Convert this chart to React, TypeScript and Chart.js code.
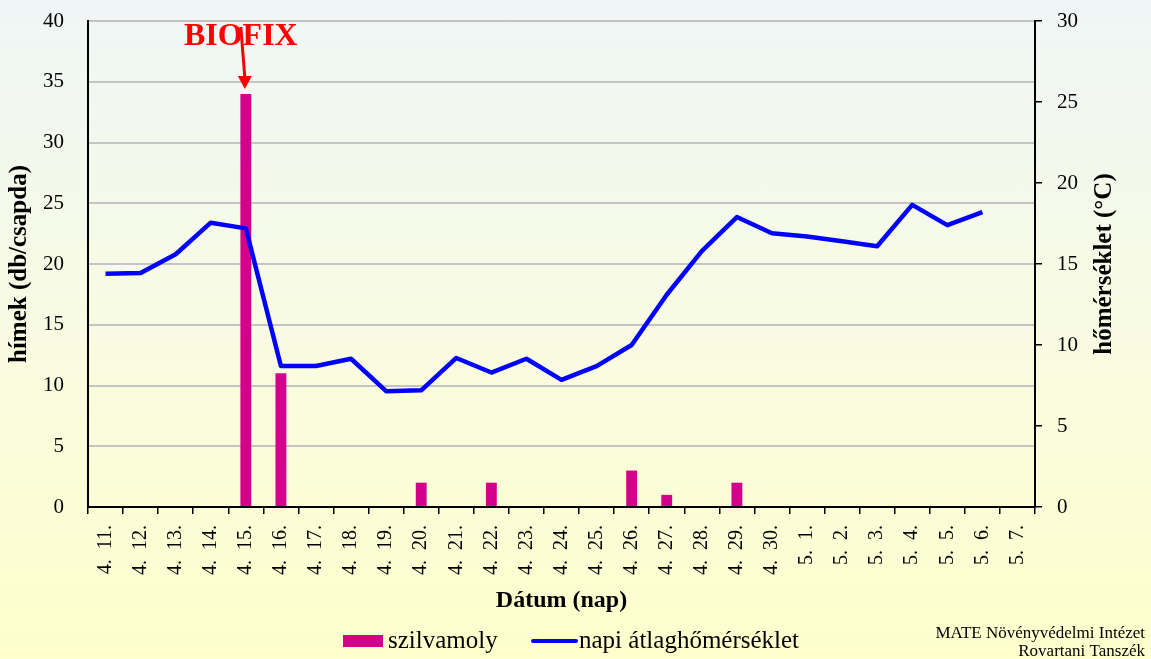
import React, { useEffect, useRef } from 'react';
import { Chart, registerables } from 'chart.js';

Chart.register(...registerables);

const categories: string[] = [
  '4. 11.', '4. 12.', '4. 13.', '4. 14.', '4. 15.', '4. 16.', '4. 17.', '4. 18.', '4. 19.',
  '4. 20.', '4. 21.', '4. 22.', '4. 23.', '4. 24.', '4. 25.', '4. 26.', '4. 27.', '4. 28.',
  '4. 29.', '4. 30.', '5. 1.', '5. 2.', '5. 3.', '5. 4.', '5. 5.', '5. 6.', '5. 7.',
];

const szilvamoly: number[] = [
  0, 0, 0, 0, 34, 11, 0, 0, 0, 2, 0, 2, 0, 0, 0, 3, 1, 0, 2, 0, 0, 0, 0, 0, 0, 0, 0,
];

const homerseklet: (number | null)[] = [
  14.4, 14.45, 15.6, 17.55, 17.2, 8.7, 8.7, 9.15, 7.15, 7.2, 9.2, 8.3, 9.15, 7.85, 8.7, 10.0,
  13.1, 15.8, 17.9, 16.9, 16.7, 16.4, 16.1, 18.65, 17.4, 18.2, null,
];

const leftTicks = { min: 0, max: 40, step: 5 };
const rightTicks = { min: 0, max: 30, step: 5 };

const biofixLabel = 'BIOFIX';
const biofixCategory = '4. 15.';
const barLabel = 'szilvamoly';
const lineLabel = 'napi átlaghőmérséklet';
const xTitle = 'Dátum (nap)';
const yTitle = 'hímek (db/csapda)';
const y1Title = 'hőmérséklet (°C)';
const creditLines = ['MATE Növényvédelmi Intézet', 'Rovartani Tanszék'];

const FONT = "'Liberation Serif', 'Times New Roman', serif";
const BAR_COLOR = '#d4008c';
const LINE_COLOR = '#0000ff';

const overlayPlugin = {
  id: 'overlay',
  afterDraw(chart: any) {
    const ctx: CanvasRenderingContext2D = chart.ctx;
    const { top, bottom } = chart.chartArea;
    const xs = chart.scales.x;
    const ys = chart.scales.y;
    const y1 = chart.scales.y1;

    ctx.save();
    // BIOFIX annotation
    const idx = categories.indexOf(biofixCategory);
    const bx = xs.getPixelForValue(idx);
    const by = ys.getPixelForValue(szilvamoly[idx]);
    ctx.fillStyle = '#ff0000';
    ctx.font = `bold 32px ${FONT}`;
    ctx.textAlign = 'center';
    ctx.textBaseline = 'alphabetic';
    ctx.fillText(biofixLabel, bx - 5, top + 24);
    ctx.strokeStyle = '#ff0000';
    ctx.lineWidth = 3;
    ctx.beginPath();
    ctx.moveTo(bx - 5, top + 6);
    ctx.lineTo(bx - 1, by - 16);
    ctx.stroke();
    ctx.beginPath();
    ctx.moveTo(bx - 1, by - 5);
    ctx.lineTo(bx - 8, by - 18);
    ctx.lineTo(bx + 6, by - 18);
    ctx.closePath();
    ctx.fill();

    // right axis title (reads bottom to top)
    ctx.fillStyle = '#000';
    ctx.font = `bold 25px ${FONT}`;
    ctx.save();
    ctx.translate(y1.right - 46, (top + bottom) / 2);
    ctx.rotate(-Math.PI / 2);
    ctx.textAlign = 'center';
    ctx.textBaseline = 'middle';
    ctx.fillText(y1Title, 0, 0);
    ctx.restore();

    // legend
    const ly = 641;
    ctx.font = `25px ${FONT}`;
    ctx.textBaseline = 'middle';
    ctx.textAlign = 'left';
    ctx.fillStyle = chart.data.datasets[0].backgroundColor;
    ctx.fillRect(343, ly - 6, 40, 12);
    ctx.fillStyle = '#000';
    ctx.fillText(chart.data.datasets[0].label, 388, ly);
    ctx.strokeStyle = chart.data.datasets[1].borderColor;
    ctx.lineWidth = 4;
    ctx.lineCap = 'round';
    ctx.beginPath();
    ctx.moveTo(533, ly);
    ctx.lineTo(576, ly);
    ctx.stroke();
    ctx.fillText(chart.data.datasets[1].label, 579, ly);

    // credit
    ctx.font = `17px ${FONT}`;
    ctx.textAlign = 'right';
    ctx.fillStyle = '#000';
    ctx.fillText(creditLines[0], 1145, 634);
    ctx.fillText(creditLines[1], 1145, 652);
    ctx.restore();
  },
};

export default function App() {
  const canvasRef = useRef<HTMLCanvasElement | null>(null);

  useEffect(() => {
    const canvas = canvasRef.current;
    if (!canvas) return;
    const chart = new Chart(canvas, {
      type: 'bar',
      data: {
        labels: categories,
        datasets: [
          {
            type: 'bar',
            label: barLabel,
            data: szilvamoly,
            backgroundColor: BAR_COLOR,
            borderWidth: 0,
            yAxisID: 'y',
            order: 2,
            barPercentage: 0.31,
            categoryPercentage: 1,
          } as any,
          {
            type: 'line',
            label: lineLabel,
            data: homerseklet,
            borderColor: LINE_COLOR,
            backgroundColor: LINE_COLOR,
            borderWidth: 4.5,
            pointRadius: 0,
            tension: 0,
            yAxisID: 'y1',
            order: 1,
            borderJoinStyle: 'round',
          } as any,
        ],
      },
      options: {
        responsive: false,
        animation: false,
        layout: { padding: { top: 21, bottom: 41, left: 0, right: 0 } },
        plugins: {
          legend: { display: false },
          tooltip: { enabled: false },
        },
        scales: {
          x: {
            type: 'category',
            offset: true,
            grid: {
              offset: true,
              drawOnChartArea: false,
              drawTicks: true,
              tickLength: 7,
              color: '#000',
              lineWidth: 1.5,
            },
            border: { color: '#000', width: 2 },
            ticks: {
              autoSkip: false,
              maxRotation: 90,
              minRotation: 90,
              padding: 11,
              color: '#000',
              font: { family: FONT, size: 20 },
              callback: (_v: any, i: number) => categories[i].split(' ').join('  '),
            },
            title: {
              display: true,
              text: xTitle,
              color: '#000',
              font: { family: FONT, size: 24, weight: 'bold' },
              padding: { top: 0, bottom: 3 },
            },
            afterFit: (s: any) => {
              s.height = 111;
            },
          },
          y: {
            position: 'left',
            min: leftTicks.min,
            max: leftTicks.max,
            ticks: {
              stepSize: leftTicks.step,
              padding: 24,
              color: '#000',
              font: { family: FONT, size: 21 },
            },
            grid: { color: '#c4c4c4', lineWidth: 2, drawTicks: false },
            border: { color: '#000', width: 2 },
            title: {
              display: true,
              text: yTitle,
              color: '#000',
              font: { family: FONT, size: 25, weight: 'bold' },
              padding: { top: 5, bottom: 0 },
            },
            afterFit: (s: any) => {
              s.width = 88;
              s.paddingTop = 0;
              s.paddingBottom = 0;
            },
          },
          y1: {
            position: 'right',
            min: rightTicks.min,
            max: rightTicks.max,
            ticks: {
              stepSize: rightTicks.step,
              padding: 15,
              color: '#000',
              font: { family: FONT, size: 21 },
            },
            grid: {
              drawOnChartArea: false,
              drawTicks: true,
              tickLength: 7,
              color: '#000',
              lineWidth: 1.5,
            },
            border: { color: '#000', width: 2 },
            afterFit: (s: any) => {
              s.width = 116;
              s.paddingTop = 0;
              s.paddingBottom = 0;
            },
          },
        },
      } as any,
      plugins: [overlayPlugin],
    });
    return () => chart.destroy();
  }, []);

  return (
    <div
      style={{
        position: 'fixed',
        left: 0,
        top: 0,
        width: 1151,
        height: 659,
        background: 'linear-gradient(to bottom, #eff6f6 0%, #f8fbe2 50%, #ffffcc 100%)',
      }}
    >
      <canvas ref={canvasRef} width={1151} height={659} style={{ display: 'block' }} />
    </div>
  );
}
